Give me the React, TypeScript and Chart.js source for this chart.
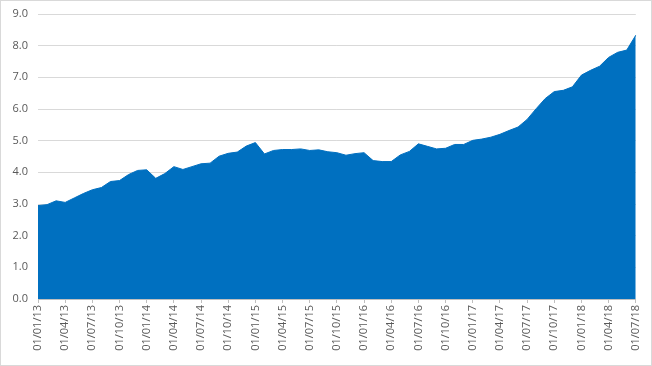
import React, { useEffect, useRef } from "react";
import { Chart, registerables } from "chart.js";

Chart.register(...registerables);

const months: string[] = [
  "01/01/13","01/02/13","01/03/13","01/04/13","01/05/13","01/06/13","01/07/13","01/08/13","01/09/13","01/10/13","01/11/13","01/12/13",
  "01/01/14","01/02/14","01/03/14","01/04/14","01/05/14","01/06/14","01/07/14","01/08/14","01/09/14","01/10/14","01/11/14","01/12/14",
  "01/01/15","01/02/15","01/03/15","01/04/15","01/05/15","01/06/15","01/07/15","01/08/15","01/09/15","01/10/15","01/11/15","01/12/15",
  "01/01/16","01/02/16","01/03/16","01/04/16","01/05/16","01/06/16","01/07/16","01/08/16","01/09/16","01/10/16","01/11/16","01/12/16",
  "01/01/17","01/02/17","01/03/17","01/04/17","01/05/17","01/06/17","01/07/17","01/08/17","01/09/17","01/10/17","01/11/17","01/12/17",
  "01/01/18","01/02/18","01/03/18","01/04/18","01/05/18","01/06/18","01/07/18",
];

const values: number[] = [
  2.95, 2.98, 3.1, 3.05, 3.19, 3.33, 3.45, 3.52, 3.71, 3.74, 3.93, 4.06,
  4.08, 3.81, 3.96, 4.18, 4.09, 4.18, 4.27, 4.29, 4.51, 4.6, 4.64, 4.83,
  4.94, 4.58, 4.69, 4.72, 4.72, 4.74, 4.69, 4.71, 4.65, 4.62, 4.54, 4.59,
  4.62, 4.37, 4.34, 4.34, 4.55, 4.66, 4.9, 4.82, 4.74, 4.76, 4.88, 4.88,
  5.01, 5.05, 5.11, 5.2, 5.32, 5.43, 5.67, 6.01, 6.33, 6.55, 6.59, 6.7,
  7.07, 7.22, 7.35, 7.63, 7.79, 7.86, 8.33,
];

const labelEvery = 3;
const yMin = 0;
const yMax = 9;
const yStep = 1;

export default function App() {
  const ref = useRef<HTMLCanvasElement | null>(null);

  useEffect(() => {
    document.body.style.margin = "0";
    const ctx = ref.current!;
    const font = { family: "'Open Sans', 'Liberation Sans', sans-serif", size: 11 };
    const chart = new Chart(ctx, {
      type: "line",
      data: {
        labels: months,
        datasets: [
          {
            data: values,
            fill: "origin",
            backgroundColor: "#0070C0",
            borderColor: "#0070C0",
            borderWidth: 1,
            pointRadius: 0,
            tension: 0,
          },
        ],
      },
      options: {
        animation: false,
        responsive: false,
        maintainAspectRatio: false,
        layout: { padding: { top: 13, right: 11, bottom: 4, left: 0 } },
        plugins: { legend: { display: false }, tooltip: { enabled: false } },
        scales: {
          x: {
            type: "category",
            offset: false,
            grid: {
              drawOnChartArea: false,
              drawTicks: true,
              tickLength: 4,
              color: "#bfbfbf",
            },
            border: { display: true, color: "#bfbfbf" },
            ticks: {
              autoSkip: false,
              maxRotation: 90,
              minRotation: 90,
              padding: 2,
              color: "#595959",
              font,
              callback: (_v: any, i: number) => (i % labelEvery === 0 ? months[i] : null),
            },
            afterFit: (s: any) => {
              s.height = 62;
            },
          },
          y: {
            min: yMin,
            max: yMax,
            grid: { color: "#d9d9d9", drawTicks: false },
            border: { display: false },
            ticks: {
              stepSize: yStep,
              padding: 10,
              color: "#595959",
              font,
              callback: (v: any) => Number(v).toFixed(1),
            },
            afterFit: (s: any) => {
              s.width = 37;
              s.paddingTop = 0;
              s.paddingBottom = 0;
            },
          },
        },
      },
    });
    return () => chart.destroy();
  }, []);

  return (
    <div
      style={{
        position: "absolute",
        left: 0,
        top: 0,
        width: 652,
        height: 366,
        boxSizing: "border-box",
        border: "1px solid #d9d9d9",
        background: "#fff",
      }}
    >
      <canvas ref={ref} width={650} height={364} style={{ display: "block" }} />
    </div>
  );
}
